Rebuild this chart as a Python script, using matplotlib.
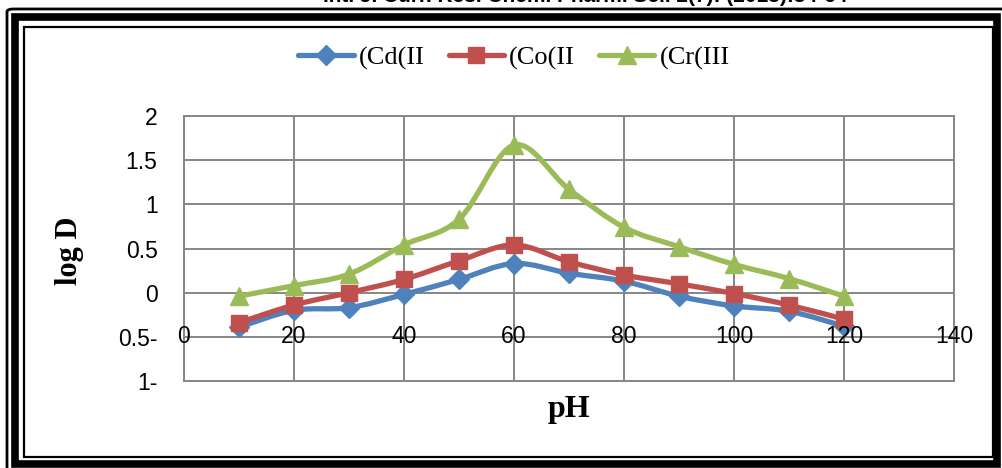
# log D vs pH for Cd(II), Co(II), Cr(III)
import matplotlib
matplotlib.use("Agg")
import matplotlib.pyplot as plt
from matplotlib.path import Path
from matplotlib.patches import PathPatch, FancyBboxPatch
from matplotlib.lines import Line2D

ph = [10, 20, 30, 40, 50, 60, 70, 80, 90, 100, 110, 120]
cd = [-0.39, -0.20, -0.17, -0.02, 0.15, 0.33, 0.22, 0.13, -0.04, -0.15, -0.21, -0.38]
co = [-0.34, -0.14, 0.00, 0.15, 0.36, 0.54, 0.35, 0.20, 0.10, -0.01, -0.14, -0.30]
cr = [-0.04, 0.08, 0.21, 0.54, 0.83, 1.67, 1.17, 0.74, 0.52, 0.32, 0.16, -0.04]
names = ["(Cd(II", "(Co(II", "(Cr(III"]

x_ticks = [0, 20, 40, 60, 80, 100, 120, 140]
y_ticks = [-1, -0.5, 0, 0.5, 1, 1.5, 2]
y_labels = ["1-", "0.5-", "0", "0.5", "1", "1.5", "2"]

colors = ["#4F81BD", "#C0504D", "#9BBB59"]
markers = ["D", "s", "^"]
msizes = [10, 12, 13]


def smooth_path(xs, ys, t=1 / 6):
    # Excel-like smoothed line: bezier segments through the data points
    verts = [(xs[0], ys[0])]
    codes = [Path.MOVETO]
    n = len(xs)
    for i in range(n - 1):
        x0, y0 = (xs[i - 1], ys[i - 1]) if i > 0 else (xs[i], ys[i])
        x1, y1 = xs[i], ys[i]
        x2, y2 = xs[i + 1], ys[i + 1]
        x3, y3 = (xs[i + 2], ys[i + 2]) if i + 2 < n else (x2, y2)
        c1 = (x1 + (x2 - x0) * t, y1 + (y2 - y0) * t)
        c2 = (x2 - (x3 - x1) * t, y2 - (y3 - y1) * t)
        verts += [c1, c2, (x2, y2)]
        codes += [Path.CURVE4] * 3
    return Path(verts, codes)


fig = plt.figure(figsize=(10.02, 4.68), dpi=100)
ax = fig.add_axes([184 / 1002, 87 / 468, 770 / 1002, 265 / 468])

for ys, c, m, ms in zip([cd, co, cr], colors, markers, msizes):
    ax.add_patch(PathPatch(smooth_path(ph, ys), fill=False, edgecolor=c,
                           lw=3.8, capstyle="round", joinstyle="round", zorder=3))
    ax.plot(ph, ys, ls="none", marker=m, ms=ms, color=c, zorder=4)

ax.set_xlim(0, 140)
ax.set_ylim(-1, 2)
ax.set_xticks(x_ticks)
ax.set_xticklabels([])
ax.set_yticks(y_ticks)
ax.set_yticklabels(y_labels, fontsize=16.5, family="Liberation Sans")
ax.tick_params(length=0, pad=19)
ax.grid(True, color="#868686", lw=1.4)
for s in ax.spines.values():
    s.set_color("#868686")
    s.set_linewidth(1.4)
ax.set_axisbelow(True)

# x tick labels sit on the -0.5 line (axis crosses there)
for xv in x_ticks:
    ax.text(xv, -0.5, str(xv), ha="center", va="center", fontsize=16.5,
            family="Liberation Sans", zorder=5)

fig.text(70 / 1002, 1 - 251 / 468, "log D", rotation=90, ha="center", va="center",
         fontsize=22, fontweight="bold", family="Liberation Serif")
fig.text(569 / 1002, 1 - 409 / 468, "pH", ha="center", va="center",
         fontsize=23, fontweight="bold", family="Liberation Serif")

handles = [Line2D([], [], color=c, lw=3.8, marker=m, ms=ms, solid_capstyle="round")
           for c, m, ms in zip(colors, markers, msizes)]
fig.legend(handles, names, loc="center", bbox_to_anchor=(514 / 1002, 1 - 58 / 468),
           ncol=3, frameon=False, handlelength=2.1, handletextpad=0.2, columnspacing=0.9,
           prop={"family": "Liberation Serif", "size": 19})

# header text cut at the top of the page
fig.text(585 / 1002, 1 + 3 / 468, "Int. J. Curr. Res. Chem. Pharm. Sci. 2(7): (2015):54-64",
         ha="center", va="center", fontsize=15, fontweight="bold", family="Liberation Sans")

# double frame around the chart
W, H = 1002, 468
def frame(x0, y0, x1, y1, lw, r=0):
    fig.patches.append(FancyBboxPatch((x0 / W, 1 - y1 / H), (x1 - x0) / W, (y1 - y0) / H,
                                      boxstyle=f"round,pad=0,rounding_size={r / W}",
                                      transform=fig.transFigure, fill=False,
                                      edgecolor="black", lw=lw))

frame(7, 9, 1010, 478, 2.0, r=6)
frame(15, 17, 997, 464, 5.5)
frame(24, 27, 993, 457, 1.6)

fig.savefig("out.png", dpi=100)
